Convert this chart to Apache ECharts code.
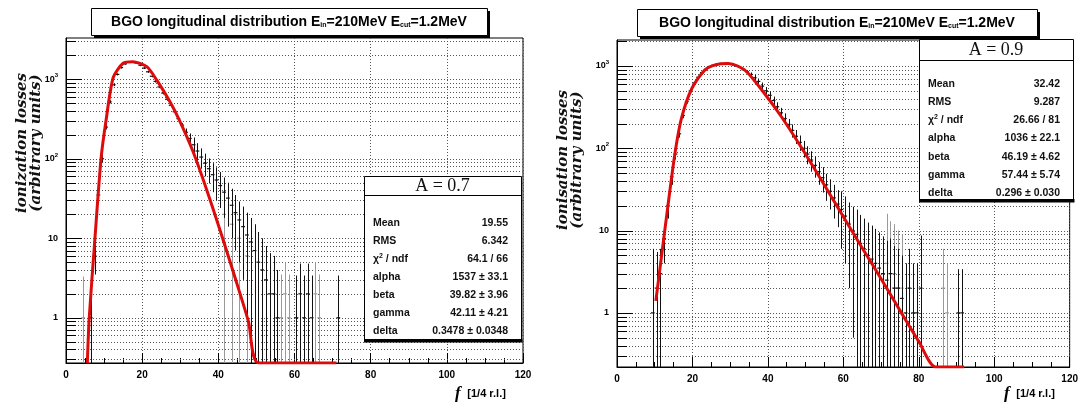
<!DOCTYPE html>
<html><head><meta charset="utf-8">
<script src="https://cdn.jsdelivr.net/npm/echarts@6/dist/echarts.min.js"></script>
<style>html,body{margin:0;padding:0;background:#fff}#c{width:1081px;height:403px}</style>
</head><body><div id="c"></div>
<script>
// ---------- data ----------
const titleText = 'BGO longitudinal distribution E{sub|in}=210MeV E{sub|cut}=1.2MeV';
const xRange = [0, 120];
const leftYRange = [0.27, 3300];
const rightYRange = [0.22, 2070];
const yGridValues = [0.2,0.3,0.4,0.5,0.6,0.7,0.8,0.9,1,2,3,4,5,6,7,8,9,10,20,30,40,50,60,70,80,90,100,200,300,400,500,600,700,800,900,1000,2000,3000];
const decadeValues = [1,10,100,1000];

// left panel (A = 0.7)
const leftFitX = [5.6,6.1,7.6,9.2,10.5,12.4,15.0,17.5,21.2,23.8,27.3,29.7,33.3,37.0,40.6,44.3,47.9,50.6,71];
const leftFitY = [0.27,1,10,100,300,1050,1590,1660,1440,980,520,310,125,40,12,3.3,0.9,0.27,0.27];
const leftBinX = [6.5,7.5,8.5,9.5,10.5,11.5,12.5,13.5,14.5,15.5,16.5,17.5,18.5,19.5,20.5,21.5,22.5,23.5,24.5,25.5,26.5,27.5,28.5,29.5,30.5,31.5,32.5,33.5,34.5,35.5,36.5,37.5,38.5,39.5,40.5,41.5,42.5,43.5,44.5,45.5,46.5,47.5,48.5,49.5,50.5,51.5,52.5,53.5,54.5,55.5,60.5,61.5,62.5,63.5,64.5,71.5];
const leftBinY = [1,6,35,100,250,520,850,1150,1400,1560,1640,1650,1600,1500,1380,1240,1090,940,800,670,560,470,390,320,265,215,180,150,125,105,88,75,63,54,46,38,32,26,21,17,14,11,9,7,5,4,3,2,2,1,1,2,1,2,1,1];
const leftBinErr = [1.4,2.5,6,10,16,23,29,34,37,40,40,41,40,39,37,35,33,31,28,26,24,22,20,18,17,25,28,35,32,30,28,26,25,24,22,20,18,16,14,12,11,10,9,8,7,6,5,4.5,4,3,2.4,2.8,2.4,2.8,2.4,2.4];
const leftGrayX = [4.5,41.5,43.5,45.5,47.5,56.5,57.5,58.5,65.5,66.5];
const leftGrayY = [1,20,15,10,6,1,2,1,2,1];
const leftGrayErr = [2.3,25,20,15,10,2.5,3,2.5,3,2.5];
const leftStatNames = ['Mean','RMS','\u03c7{sup|2} / ndf','alpha','beta','gamma','delta'];
const leftStatValues = ['19.55','6.342','64.1 / 66','1537 \u00b1 33.1','39.82 \u00b1 3.96','42.11 \u00b1 4.21','0.3478 \u00b1 0.0348'];
const leftHeader = 'A = 0.7';

// right panel (A = 0.9)
const rightFitX = [10.3,11.7,13.5,15.3,17.1,19.9,23.5,27.1,29.5,32,34.4,39,43.5,49,55.6,62.2,68.8,75.4,80,84.5,92];
const rightFitY = [1.4,4.5,20,83,232,540,910,1060,1070,1000,850,470,245,100,32,10,3.2,1,0.45,0.22,0.22];
const rightBinX = [9.5,10.5,11.5,12.5,13.5,14.5,15.5,16.5,17.5,18.5,19.5,20.5,21.5,22.5,23.5,24.5,25.5,26.5,27.5,28.5,29.5,30.5,31.5,32.5,33.5,34.5,35.5,36.5,37.5,38.5,39.5,40.5,41.5,42.5,43.5,44.5,45.5,46.5,47.5,48.5,49.5,50.5,51.5,52.5,53.5,54.5,55.5,56.5,57.5,58.5,59.5,60.5,61.5,62.5,63.5,64.5,65.5,66.5,67.5,68.5,69.5,70.5,71.5,72.5,73.5,74.5,75.5,76.5,77.5,78.5,79.5,80.5,90.5,91.5];
const rightBinY = [1,2,3,8,20,45,85,150,250,370,500,620,730,830,910,970,1020,1050,1060,1070,1060,1040,1000,960,900,850,790,720,650,570,500,440,380,320,270,230,195,165,140,118,100,85,72,62,52,44,36,30,25,21,18,15,12,10,9,7,6,5,4.5,4,3.5,3,2.5,3,2,2,1.5,1,2,1,1,2,1,1];
const rightBinErr = [5,3.5,3,4,6,9,12,15,18,21,23,25,27,28,29,30,31,31,31,31,31,31,30,30,29,40,45,60,55,60,55,50,45,42,40,36,32,30,27,25,23,21,20,18,16,15,13,12,11,10,12,11,10,9.5,9,8.5,8,7.5,7,6.5,6,5.5,5,5,4.5,4,3.5,3,4,3,3,6.7,2.4,2.4];
const rightGrayX = [71.5,72.5,73.5,74.5,75.5,86.5,87.5];
const rightGrayY = [4,3,3,2,2,2,1];
const rightGrayErr = [12,10,9,8,7,4,3];
const rightStatNames = ['Mean','RMS','\u03c7{sup|2} / ndf','alpha','beta','gamma','delta'];
const rightStatValues = ['32.42','9.287','26.66 / 81','1036 \u00b1 22.1','46.19 \u00b1 4.62','57.44 \u00b1 5.74','0.296 \u00b1 0.030'];
const rightHeader = 'A = 0.9';

const yTitleLeft = 'ionization losses\n(arbitrary units)';
const yTitleRight = 'ionisation losses\n(arbitrary units)';
const xTitleVar = 'f';
const xTitleUnit = '[1/4 r.l.]';

// ---------- helpers ----------
const SANS = '"Liberation Sans", Arial, sans-serif';
const SERIF = '"Liberation Serif", "Times New Roman", serif';
const zip = (a, b) => a.map((v, i) => [v, b[i]]);
const zip3 = (a, b, c) => a.map((v, i) => [v, b[i], c[i]]);

function gridRender(range) {
  return function (params, api) {
    const v = api.value(1);
    if (v < range[0] * 0.999 || v > range[1]) return null;
    const a = api.coord([xRange[0], v]);
    const b = api.coord([xRange[1], v]);
    const y = Math.round(a[1]) + 0.5;
    const major = decadeValues.indexOf(v) >= 0;
    return { type: 'group', children: [
      { type: 'line', shape: { x1: a[0], y1: y, x2: b[0], y2: y }, style: { stroke: '#555', lineWidth: 1, lineDash: [1, 2] } },
      { type: 'line', shape: { x1: a[0], y1: y, x2: a[0] + (major ? 16 : 10), y2: y }, style: { stroke: '#000', lineWidth: 1 } }
    ] };
  };
}
function errRender(range, color) {
  return function (params, api) {
    const x = api.value(0), v = api.value(1), e = api.value(2);
    const lo = Math.max(v - e, range[0]);
    const hi = Math.min(v + e, range[1]);
    const pl = api.coord([x - 0.5, v]), pr = api.coord([x + 0.5, v]);
    const pLo = api.coord([x, lo]), pHi = api.coord([x, hi]);
    const xm = Math.round(pLo[0]) + 0.5;
    return { type: 'group', children: [
      { type: 'line', shape: { x1: xm, y1: pLo[1], x2: xm, y2: pHi[1] }, style: { stroke: color, lineWidth: 1 } },
      { type: 'line', shape: { x1: pl[0], y1: pl[1], x2: pr[0], y2: pr[1] }, style: { stroke: color, lineWidth: 1.2 } }
    ] };
  };
}
function yLabel(v) {
  const l = Math.log10(v);
  if (Math.abs(l - Math.round(l)) > 1e-6) return '';
  const p = Math.round(l);
  if (p === 0) return '1';
  if (p === 1) return '10';
  return '10{s|' + p + '}';
}
function xAxisCfg(idx) {
  return {
    gridIndex: idx, type: 'value', min: xRange[0], max: xRange[1], interval: 20,
    axisLine: { show: true, onZero: false, lineStyle: { color: '#000', width: 1 } },
    axisTick: { show: true, inside: true, length: 10, lineStyle: { color: '#000' } },
    minorTick: { show: true, splitNumber: 4, length: 5, lineStyle: { color: '#000' } },
    axisLabel: { color: '#000', fontSize: 10, fontWeight: 'bold', fontFamily: SANS, margin: 7 },
    splitLine: { show: true, lineStyle: { color: '#555', width: 1, type: [1, 2] } }
  };
}
function yAxisCfg(idx, range) {
  return {
    gridIndex: idx, type: 'log', logBase: 10, min: range[0], max: range[1],
    axisLine: { show: true, lineStyle: { color: '#000', width: 1 } },
    axisTick: { show: false },
    splitLine: { show: false },
    axisLabel: {
      showMinLabel: false, showMaxLabel: false, color: '#000', fontSize: 9, fontWeight: 'bold', fontFamily: SANS, margin: 8,
      formatter: yLabel,
      rich: { s: { fontSize: 6, fontWeight: 'bold', fontFamily: SANS, color: '#000', padding: [0, 0, 7, 0] } }
    }
  };
}
function titleBox(x, y, w, h) {
  return { type: 'group', children: [
    { type: 'rect', shape: { x: x + 3, y: y + 3, width: w, height: h }, style: { fill: '#000' }, z: 10 },
    { type: 'rect', shape: { x: x + 0.5, y: y + 0.5, width: w, height: h }, style: { fill: '#fff', stroke: '#000', lineWidth: 1 }, z: 11 },
    { type: 'text', x: x + w / 2, y: y + h / 2 + 0.5, z: 12, style: {
      text: titleText, align: 'center', verticalAlign: 'middle', fill: '#000',
      font: 'bold 14px ' + SANS,
      rich: { sub: { fontSize: 7, fontWeight: 'bold', fontFamily: SANS, padding: [7, 0, 0, 0] } }
    } }
  ] };
}
function statsBox(x, y, w, h, headH, header, names, values, rowY0, rowDy) {
  const ch = [
    { type: 'rect', shape: { x: x + 0.5, y: y + 0.5, width: w, height: h }, style: { fill: '#fff', stroke: '#000', lineWidth: 1 }, z: 20 },
    { type: 'rect', shape: { x: x, y: y + h - 1, width: w + 1.5, height: 3.5 }, style: { fill: '#000' }, z: 21 },
    { type: 'line', shape: { x1: x, y1: y + headH + 0.5, x2: x + w, y2: y + headH + 0.5 }, style: { stroke: '#000', lineWidth: 1 }, z: 21 },
    { type: 'text', x: x + w / 2, y: y + headH / 2 + 1, z: 22, style: { text: header, align: 'center', verticalAlign: 'middle', fill: '#111', font: '18px ' + SERIF } }
  ];
  names.forEach((n, i) => {
    const yy = rowY0 + i * rowDy;
    ch.push({ type: 'text', x: x + 9, y: yy, z: 22, style: { text: n, align: 'left', verticalAlign: 'middle', fill: '#111', font: 'bold 10.5px ' + SANS,
      rich: { sup: { fontSize: 7, fontWeight: 'bold', fontFamily: SANS, padding: [0, 0, 6, 0] } } } });
    ch.push({ type: 'text', x: x + w - 13, y: yy, z: 22, style: { text: values[i], align: 'right', verticalAlign: 'middle', fill: '#111', font: 'bold 10.5px ' + SANS } });
  });
  return { type: 'group', children: ch };
}
function yTitle(cx, cy, text) {
  return { type: 'text', x: cx, y: cy, rotation: Math.PI / 2, z: 5, style: {
    text: text, align: 'center', verticalAlign: 'middle', fill: '#111', lineHeight: 14,
    font: 'italic bold 15px "DejaVu Serif", serif' } };
}
function xTitle(x, y) {
  return { type: 'text', x: x, y: y, z: 5, style: {
    text: '{v|' + xTitleVar + '}  {u|' + xTitleUnit + '}', align: 'left', verticalAlign: 'middle',
    rich: {
      v: { font: 'italic bold 17px ' + SERIF, fill: '#000' },
      u: { font: 'bold 11px ' + SANS, fill: '#000' }
    } } };
}

const fitStyle = { color: '#dd0b0b', width: 3 };

const option = {
  animation: false,
  backgroundColor: '#fff',
  grid: [
    { left: 66, top: 38, width: 457, height: 325, show: true, borderColor: '#000', borderWidth: 1, backgroundColor: 'transparent' },
    { left: 617, top: 40, width: 456, height: 327, show: true, borderColor: '#000', borderWidth: 1, backgroundColor: 'transparent' }
  ],
  xAxis: [xAxisCfg(0), xAxisCfg(1)],
  yAxis: [yAxisCfg(0, leftYRange), yAxisCfg(1, rightYRange)],
  series: [
    { type: 'custom', xAxisIndex: 0, yAxisIndex: 0, data: yGridValues.map(v => [0, v]), renderItem: gridRender(leftYRange), z: 1, silent: true },
    { type: 'custom', xAxisIndex: 1, yAxisIndex: 1, data: yGridValues.map(v => [0, v]), renderItem: gridRender(rightYRange), z: 1, silent: true },
    { type: 'custom', xAxisIndex: 0, yAxisIndex: 0, clip: true, data: zip3(leftGrayX, leftGrayY, leftGrayErr), renderItem: errRender(leftYRange, '#9a9a9a'), z: 2 },
    { type: 'custom', xAxisIndex: 1, yAxisIndex: 1, clip: true, data: zip3(rightGrayX, rightGrayY, rightGrayErr), renderItem: errRender(rightYRange, '#9a9a9a'), z: 2 },
    { type: 'custom', xAxisIndex: 0, yAxisIndex: 0, clip: true, data: zip3(leftBinX, leftBinY, leftBinErr), renderItem: errRender(leftYRange, '#111'), z: 3 },
    { type: 'custom', xAxisIndex: 1, yAxisIndex: 1, clip: true, data: zip3(rightBinX, rightBinY, rightBinErr), renderItem: errRender(rightYRange, '#111'), z: 3 },
    { type: 'line', xAxisIndex: 0, yAxisIndex: 0, data: zip(leftFitX, leftFitY), showSymbol: false, smooth: 0.25, clip: true, lineStyle: fitStyle, z: 4 },
    { type: 'line', xAxisIndex: 1, yAxisIndex: 1, data: zip(rightFitX, rightFitY), showSymbol: false, smooth: 0.25, clip: true, lineStyle: fitStyle, z: 4 }
  ],
  graphic: [
    titleBox(91, 8, 396, 27),
    titleBox(637, 9, 400, 27),
    statsBox(364, 176, 157, 164, 19, leftHeader, leftStatNames, leftStatValues, 223, 18),
    statsBox(919, 39, 154, 161, 21, rightHeader, rightStatNames, rightStatValues, 84, 18.2),
    yTitle(29, 143, yTitleLeft),
    yTitle(570, 160, yTitleRight),
    xTitle(455, 394),
    xTitle(1004, 394)
  ]
};
const chart = echarts.init(document.getElementById('c'), null, { renderer: 'canvas' });
chart.setOption(option);
</script>
</body></html>
